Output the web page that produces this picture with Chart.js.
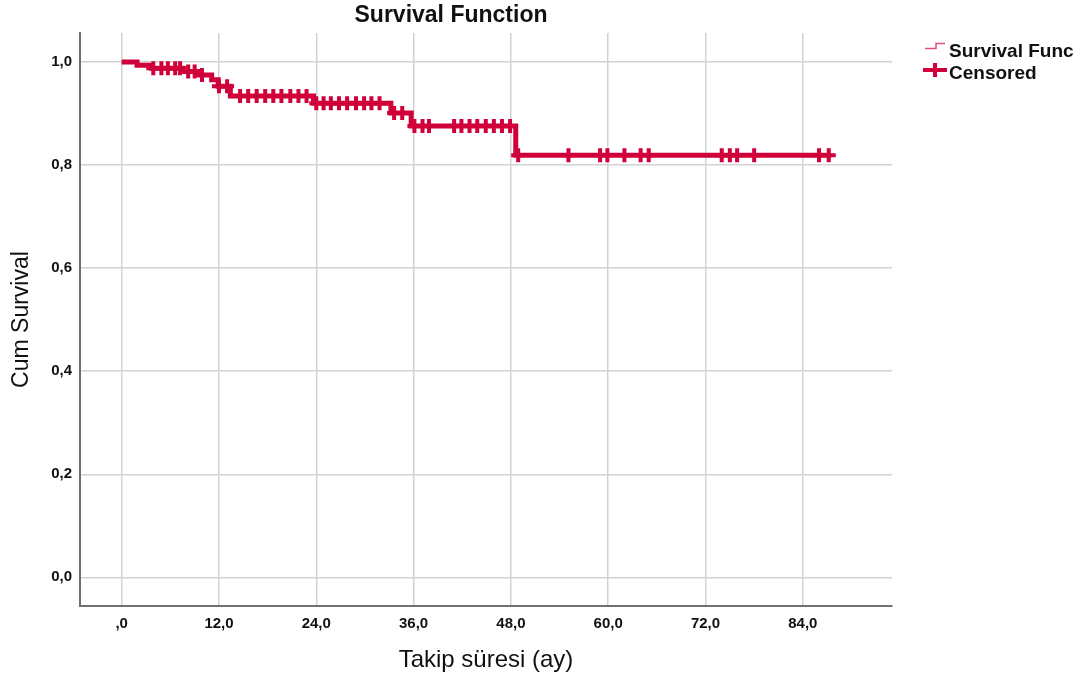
<!DOCTYPE html>
<html>
<head>
<meta charset="utf-8">
<script src="https://cdn.jsdelivr.net/npm/chart.js@4.4.0/dist/chart.umd.min.js"></script>
<style>
  html, body { margin: 0; background: #fff; }
  #wrap { width: 1086px; height: 686px; }
</style>
</head>
<body>
<div id="wrap"><canvas id="km"></canvas></div>
<script>
// Kaplan-Meier steps: time the level starts, survival from then on
const stepTimes = [0, 1.9, 3.7, 7.55, 9.6, 11.1, 11.9, 13.4, 23.65, 33.2, 35.7, 48.6];
const stepSurvival = [1.0, 0.994, 0.988, 0.982, 0.975, 0.966, 0.953, 0.934, 0.920, 0.901, 0.876, 0.819];
const lastTime = 87.5;

// censored cases (months)
const censoredTimes = [
  3.9, 4.9, 5.7, 6.6, 7.2, 8.2, 9.0, 9.9, 12.0, 13.0,
  14.6, 15.6, 16.65, 17.7, 18.7, 19.7, 20.8, 21.8, 22.8,
  24.0, 24.9, 25.8, 26.8, 27.8, 28.9, 29.9, 30.8, 31.8,
  33.6, 34.6, 36.1, 37.1, 37.9,
  41.0, 41.9, 42.9, 43.85, 44.9, 45.9, 46.9, 47.9,
  48.9, 55.1, 59.0, 59.9, 62.0, 64.0, 65.0, 74.0, 75.0, 75.9, 78.0, 86.0, 87.2
];

const xTicks = [0, 12, 24, 36, 48, 60, 72, 84];
const xTickLabels = [',0', '12,0', '24,0', '36,0', '48,0', '60,0', '72,0', '84,0'];
const yTicks = [0, 0.2, 0.4, 0.6, 0.8, 1.0];
const yTickLabels = ['0,0', '0,2', '0,4', '0,6', '0,8', '1,0'];

const RED = '#d0003a';
const GRID = '#d2d2d2';
const AXIS = '#707070';
const FONT = '"Liberation Sans", Arial, sans-serif';

function survivalAt(t) {
  let s = stepSurvival[0];
  for (let i = 0; i < stepTimes.length; i++) if (stepTimes[i] <= t) s = stepSurvival[i];
  return s;
}

const curvePoints = stepTimes.map((t, i) => ({ x: t, y: stepSurvival[i] }));
curvePoints.push({ x: lastTime, y: survivalAt(lastTime) });
const censorPoints = censoredTimes.map(t => ({ x: t, y: survivalAt(t) }));

// title + SPSS style legend, drawn by hand
const decorations = {
  id: 'decorations',
  afterDraw(chart) {
    const ctx = chart.ctx;
    ctx.save();
    ctx.fillStyle = '#111';
    ctx.font = 'bold 23px ' + FONT;
    ctx.textAlign = 'center';
    ctx.textBaseline = 'middle';
    ctx.fillText('Survival Function', 451, 16);

    // step icon
    ctx.strokeStyle = '#e0507a';
    ctx.lineWidth = 1.5;
    ctx.beginPath();
    ctx.moveTo(925, 48.5); ctx.lineTo(936, 48.5); ctx.lineTo(936, 43.5); ctx.lineTo(945, 43.5);
    ctx.stroke();
    // cross icon
    ctx.strokeStyle = RED;
    ctx.lineWidth = 4;
    ctx.beginPath();
    ctx.moveTo(923, 70); ctx.lineTo(947, 70);
    ctx.moveTo(935, 63); ctx.lineTo(935, 77);
    ctx.stroke();

    ctx.font = 'bold 19px ' + FONT;
    ctx.textAlign = 'left';
    ctx.textBaseline = 'alphabetic';
    ctx.fillText('Survival Func', 949, 56.5);
    ctx.fillText('Censored', 949, 78.5);
    ctx.restore();
  }
};

new Chart(document.getElementById('km'), {
  type: 'line',
  data: {
    datasets: [
      {
        label: 'Survival Function', data: curvePoints, stepped: 'before',
        borderColor: RED, borderWidth: 5, pointRadius: 0, fill: false
      },
      {
        label: 'Censored', data: censorPoints, showLine: false,
        pointStyle: 'cross', pointRadius: 7, borderWidth: 4,
        borderColor: RED, backgroundColor: RED
      }
    ]
  },
  options: {
    responsive: true, maintainAspectRatio: false, animation: false,
    layout: { padding: { top: 33, right: 194, bottom: 0, left: 0 } },
    scales: {
      x: {
        type: 'linear', min: -5.14, max: 95.0,
        afterFit: s => { s.height = 80; },
        afterBuildTicks: s => { s.ticks = xTicks.map(v => ({ value: v })); },
        ticks: {
          color: '#111', padding: 9, maxRotation: 0, autoSkip: false,
          font: { size: 15, weight: 'bold' },
          callback: v => xTickLabels[xTicks.indexOf(v)] ?? ''
        },
        grid: { color: GRID, lineWidth: 1.5, drawTicks: false },
        border: { color: AXIS, width: 2 },
        title: { display: true, text: 'Takip süresi (ay)', color: '#111', font: { size: 24 }, padding: { top: 0, bottom: 11 } }
      },
      y: {
        min: -0.0557, max: 1.0565,
        afterFit: s => { s.width = 80; },
        afterBuildTicks: s => { s.ticks = yTicks.map(v => ({ value: v })); },
        ticks: {
          color: '#111', padding: 8, autoSkip: false,
          font: { size: 15, weight: 'bold' },
          callback: v => yTickLabels[yTicks.findIndex(t => Math.abs(t - v) < 1e-6)] ?? ''
        },
        grid: { color: GRID, lineWidth: 1.5, drawTicks: false },
        border: { color: AXIS, width: 2 },
        title: { display: true, text: 'Cum Survival', color: '#111', font: { size: 23 }, padding: { top: 8, bottom: 0 } }
      }
    },
    plugins: {
      legend: { display: false },
      tooltip: { enabled: false }
    }
  },
  plugins: [decorations]
});
</script>
</body>
</html>
